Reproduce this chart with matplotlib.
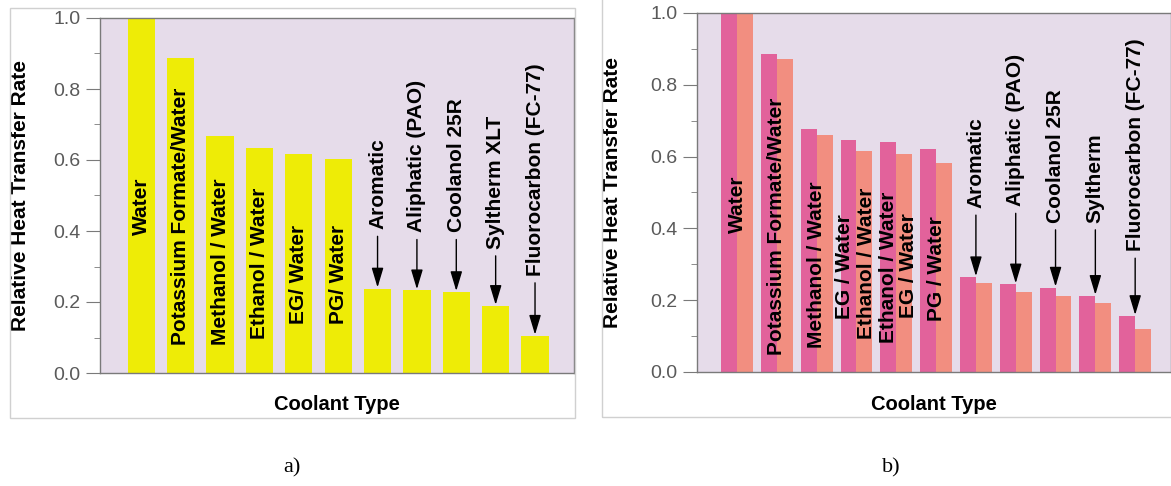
import matplotlib.pyplot as plt
from matplotlib.patches import Rectangle

# donnees
categories_a = ["Water", "Potassium Formate/Water", "Methanol / Water", "Ethanol / Water",
                "EG/ Water", "PG/ Water", "Aromatic", "Aliphatic (PAO)", "Coolanol 25R",
                "Syltherm XLT", "Fluorocarbon (FC-77)"]
valeurs_a = [1.0, 0.887, 0.667, 0.635, 0.616, 0.603, 0.238, 0.233, 0.228, 0.189, 0.105]

categories_b = ["Water", "Potassium Formate/Water", "Methanol / Water", "EG / Water",
                "Ethanol / Water", "PG / Water", "Aromatic", "Aliphatic (PAO)", "Coolanol 25R",
                "Syltherm", "Fluorocarbon (FC-77)"]
valeurs_b1 = [1.0, 0.887, 0.677, 0.646, 0.640, 0.620, 0.264, 0.244, 0.235, 0.212, 0.156]
valeurs_b2 = [1.0, 0.872, 0.661, 0.615, 0.608, 0.583, 0.247, 0.223, 0.213, 0.193, 0.119]

# position verticale du debut des etiquettes
bas_a = [0.39, 0.078, 0.078, 0.097, 0.139, 0.139, 0.405, 0.396, 0.396, 0.35, 0.274]
fleche_a = [False] * 6 + [True] * 5
bas_b = [0.388, 0.046, 0.068, 0.147, 0.082, 0.142, 0.457, 0.462, 0.416, 0.416, 0.337]
decal_b = [0, 0, 0, -0.29, -0.2, 0, 0, 0, 0, 0, 0]
fleche_b = [False] * 6 + [True] * 5
# etiquettes superposees des paires 4 et 5
extra_b = [(3, 0.24, 0.091, "Ethanol / Water"), (4, 0.30, 0.151, "EG / Water")]

LAVANDE = "#E6DCEA"
JAUNE = "#EEEC06"
ROSE = "#E2629B"
SAUMON = "#F28E80"
GRIS = "#7a7a7a"

plt.rcParams["font.family"] = ["Liberation Sans", "DejaVu Sans"]

fig = plt.figure(figsize=(11.71, 4.86), dpi=100)

# cadres gris clair autour des panneaux
fig.patches.append(Rectangle((10 / 1171, 1 - 418 / 486), 565 / 1171, 410 / 486,
                             transform=fig.transFigure, fill=False, ec="#d0d0d0", lw=1))
fig.patches.append(Rectangle((602 / 1171, 1 - 417 / 486), 600 / 1171, 420 / 486,
                             transform=fig.transFigure, fill=False, ec="#d0d0d0", lw=1))

ax1 = fig.add_axes([100 / 1171, 1 - 373 / 486, 474 / 1171, 355 / 486])
ax2 = fig.add_axes([697 / 1171, 1 - 372 / 486, 474 / 1171, 359 / 486])


def style_axe(ax):
    ax.set_facecolor(LAVANDE)
    ax.set_ylim(0, 1.0)
    ax.set_yticks([0, 0.2, 0.4, 0.6, 0.8, 1.0])
    ax.set_yticks([0.1, 0.3, 0.5, 0.7, 0.9], minor=True)
    ax.set_yticklabels(["0.0", "0.2", "0.4", "0.6", "0.8", "1.0"])
    ax.set_xticks([])
    ax.tick_params(axis="y", which="major", length=10, color=GRIS, labelcolor="#5a5a5a",
                   labelsize=14, pad=4)
    ax.tick_params(axis="y", which="minor", length=4, color=GRIS)
    for s in ax.spines.values():
        s.set_color(GRIS)
        s.set_linewidth(1)
    ax.set_ylabel("Relative Heat Transfer Rate", fontsize=15, fontweight="bold")
    ax.text(0.5, -0.09, "Coolant Type", transform=ax.transAxes, ha="center", va="center",
            fontsize=14.5, fontweight="bold")


def etiquette(ax, x, y, texte, valeur, fleche):
    ax.text(x, y, texte, rotation=90, ha="center", va="bottom", fontsize=15,
            fontweight="bold", color="black")
    if fleche:
        ax.annotate("", xy=(x, valeur + 0.003), xytext=(x, y - 0.02),
                    arrowprops=dict(arrowstyle="-|>,head_length=0.6,head_width=0.18",
                                    color="black", lw=1, mutation_scale=20,
                                    shrinkA=0, shrinkB=0))


# panneau a)
style_axe(ax1)
pos_a = list(range(len(categories_a)))
ax1.bar(pos_a, valeurs_a, width=0.69, color=JAUNE)
ax1.set_xlim(-1.05, 10.99)
ax1.yaxis.set_label_coords(-0.148, 0.5)
for i, nom in enumerate(categories_a):
    etiquette(ax1, i, bas_a[i], nom, valeurs_a[i], fleche_a[i])

# panneau b)
style_axe(ax2)
pos_b = list(range(len(categories_b)))
ax2.bar([p - 0.2 for p in pos_b], valeurs_b1, width=0.4, color=ROSE)
ax2.bar([p + 0.2 for p in pos_b], valeurs_b2, width=0.4, color=SAUMON)
ax2.set_xlim(-1.005, 10.9)
ax2.yaxis.set_label_coords(-0.158, 0.5)
for i, nom in enumerate(categories_b):
    etiquette(ax2, i + decal_b[i], bas_b[i], nom, valeurs_b1[i], fleche_b[i])
for i, dx, y, nom in extra_b:
    etiquette(ax2, i + dx, y, nom, valeurs_b1[i], False)

fig.text(292 / 1171, 1 - 468 / 486, "a)", ha="center", va="center", fontsize=16,
         family=["Liberation Serif", "DejaVu Serif"])
fig.text(891 / 1171, 1 - 468 / 486, "b)", ha="center", va="center", fontsize=16,
         family=["Liberation Serif", "DejaVu Serif"])

fig.savefig("out.png", dpi=100, facecolor="white")
